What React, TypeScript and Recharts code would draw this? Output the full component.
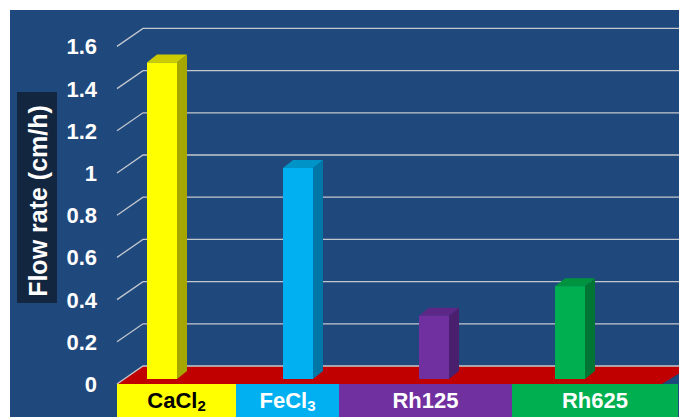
import React from "react";
import { BarChart, Bar, XAxis, YAxis, CartesianGrid } from "recharts";

const categories = ["CaCl₂", "FeCl₃", "Rh125", "Rh625"];
const flowRate = [1.5, 1.0, 0.3, 0.44];
const yTicks = [0, 0.2, 0.4, 0.6, 0.8, 1, 1.2, 1.4, 1.6];

// palette: front / top / side faces, label text colour
const FRONT = ["#FFFF00", "#00B0F0", "#7030A0", "#00B050"];
const TOP = ["#CCCC00", "#0093C8", "#5C2786", "#00933F"];
const SIDE = ["#A6A600", "#0077A6", "#4A1F6E", "#007534"];
const LABEL_TEXT = ["#000000", "#FFFFFF", "#FFFFFF", "#FFFFFF"];

const BG = "#1F497D";
const GRID_COL = "#C3C7CE";
const FLOOR = "#C00000";
const FONT = "Arial, 'Liberation Sans', sans-serif";

const W = 669;
const H = 407;
const BASE_Y = 369; // bar base inside chart
const DEPTH_X = 26; // front-to-back offset of the wall
const DEPTH_Y = 18;
const FRONT_X = 107;
const BAR_DX = 10;
const BAR_DY = 8;
// category label boxes (left edges + final right edge)
const BOX_EDGES = [107, 226, 329, 502, 668];

const data = categories.map((name, i) => ({ name, value: flowRate[i] }));

const SUB: Record<string, string> = {
  "₀": "0", "₁": "1", "₂": "2", "₃": "3", "₄": "4",
  "₅": "5", "₆": "6", "₇": "7", "₈": "8", "₉": "9",
};

function Bar3D(props: any) {
  const { x, y, width, height, index } = props;
  const r = x + width;
  const b = y + height;
  return (
    <g>
      <polygon
        points={`${r},${y} ${r + BAR_DX},${y - BAR_DY} ${r + BAR_DX},${b - BAR_DY} ${r},${b}`}
        fill={SIDE[index]}
      />
      <polygon
        points={`${x},${y} ${x + BAR_DX},${y - BAR_DY} ${r + BAR_DX},${y - BAR_DY} ${r},${y}`}
        fill={TOP[index]}
      />
      <rect x={x} y={y} width={width} height={height} fill={FRONT[index]} />
    </g>
  );
}

function gridLine(props: any) {
  const { y1, index } = props;
  const fy = y1 + 5;
  const by = y1 - 13;
  const isBase = Math.abs(y1 - BASE_Y) < 1;
  return (
    <g key={`gl-${index}-${y1}`}>
      {isBase && (
        <polygon
          points={`${FRONT_X},${fy} ${FRONT_X + DEPTH_X},${fy - DEPTH_Y} ${W + 12},${fy - DEPTH_Y} ${W - 17},${fy}`}
          fill={FLOOR}
        />
      )}
      <polyline
        points={`${FRONT_X},${fy} ${FRONT_X + DEPTH_X},${by} ${W},${by}`}
        fill="none"
        stroke={GRID_COL}
        strokeWidth={1.3}
      />
    </g>
  );
}

function YTick(props: any) {
  const { y, payload } = props;
  return (
    <text
      x={87}
      y={y + 5 + 8}
      textAnchor="end"
      fill="#FFFFFF"
      fontSize={22}
      fontWeight="bold"
      fontFamily={FONT}
    >
      {String(payload.value)}
    </text>
  );
}

function XTick(props: any) {
  const { payload, index } = props;
  const left = BOX_EDGES[index];
  const right = BOX_EDGES[index + 1];
  const label: string = payload.value;
  const parts: { t: string; sub: boolean }[] = [];
  for (const ch of label) {
    const sub = ch in SUB;
    const t = sub ? SUB[ch] : ch;
    const last = parts[parts.length - 1];
    if (last && last.sub === sub) last.t += t;
    else parts.push({ t, sub });
  }
  return (
    <g>
      <rect x={left} y={374} width={right - left} height={H - 374} fill={FRONT[index]} />
      <text
        x={(left + right) / 2}
        y={398}
        textAnchor="middle"
        fill={LABEL_TEXT[index]}
        fontSize={22}
        fontWeight="bold"
        fontFamily={FONT}
      >
        {parts.map((p, i) =>
          p.sub ? (
            <tspan key={i} fontSize={15} dy={3}>
              {p.t}
            </tspan>
          ) : (
            <tspan key={i} dy={i > 0 ? -3 : 0}>
              {p.t}
            </tspan>
          )
        )}
      </text>
    </g>
  );
}

function YTitle() {
  return (
    <g>
      <rect x={7} y={82} width={40} height={211} fill="#13263F" />
      <text
        x={0}
        y={0}
        transform={`translate(37, 191) rotate(-90)`}
        textAnchor="middle"
        fill="#FFFFFF"
        fontSize={25}
        fontWeight="bold"
        fontFamily={FONT}
      >
        Flow rate (cm/h)
      </text>
    </g>
  );
}

export default function App() {
  return (
    <div
      style={{
        position: "absolute",
        left: 10,
        top: 10,
        width: W,
        height: H,
        background: BG,
        overflow: "hidden",
      }}
    >
      <BarChart
        width={W}
        height={H}
        data={data}
        margin={{ top: 31.4, right: 41, bottom: 0, left: 10 }}
        barSize={30}
      >
        <CartesianGrid vertical={false} horizontal={gridLine} />
        <XAxis
          dataKey="name"
          axisLine={false}
          tickLine={false}
          interval={0}
          height={38}
          tick={XTick}
        />
        <YAxis
          type="number"
          domain={[0, 1.6]}
          ticks={yTicks}
          width={74}
          axisLine={false}
          tickLine={false}
          tick={YTick}
          label={<YTitle />}
        />
        <Bar dataKey="value" shape={Bar3D} isAnimationActive={false} />
      </BarChart>
    </div>
  );
}
